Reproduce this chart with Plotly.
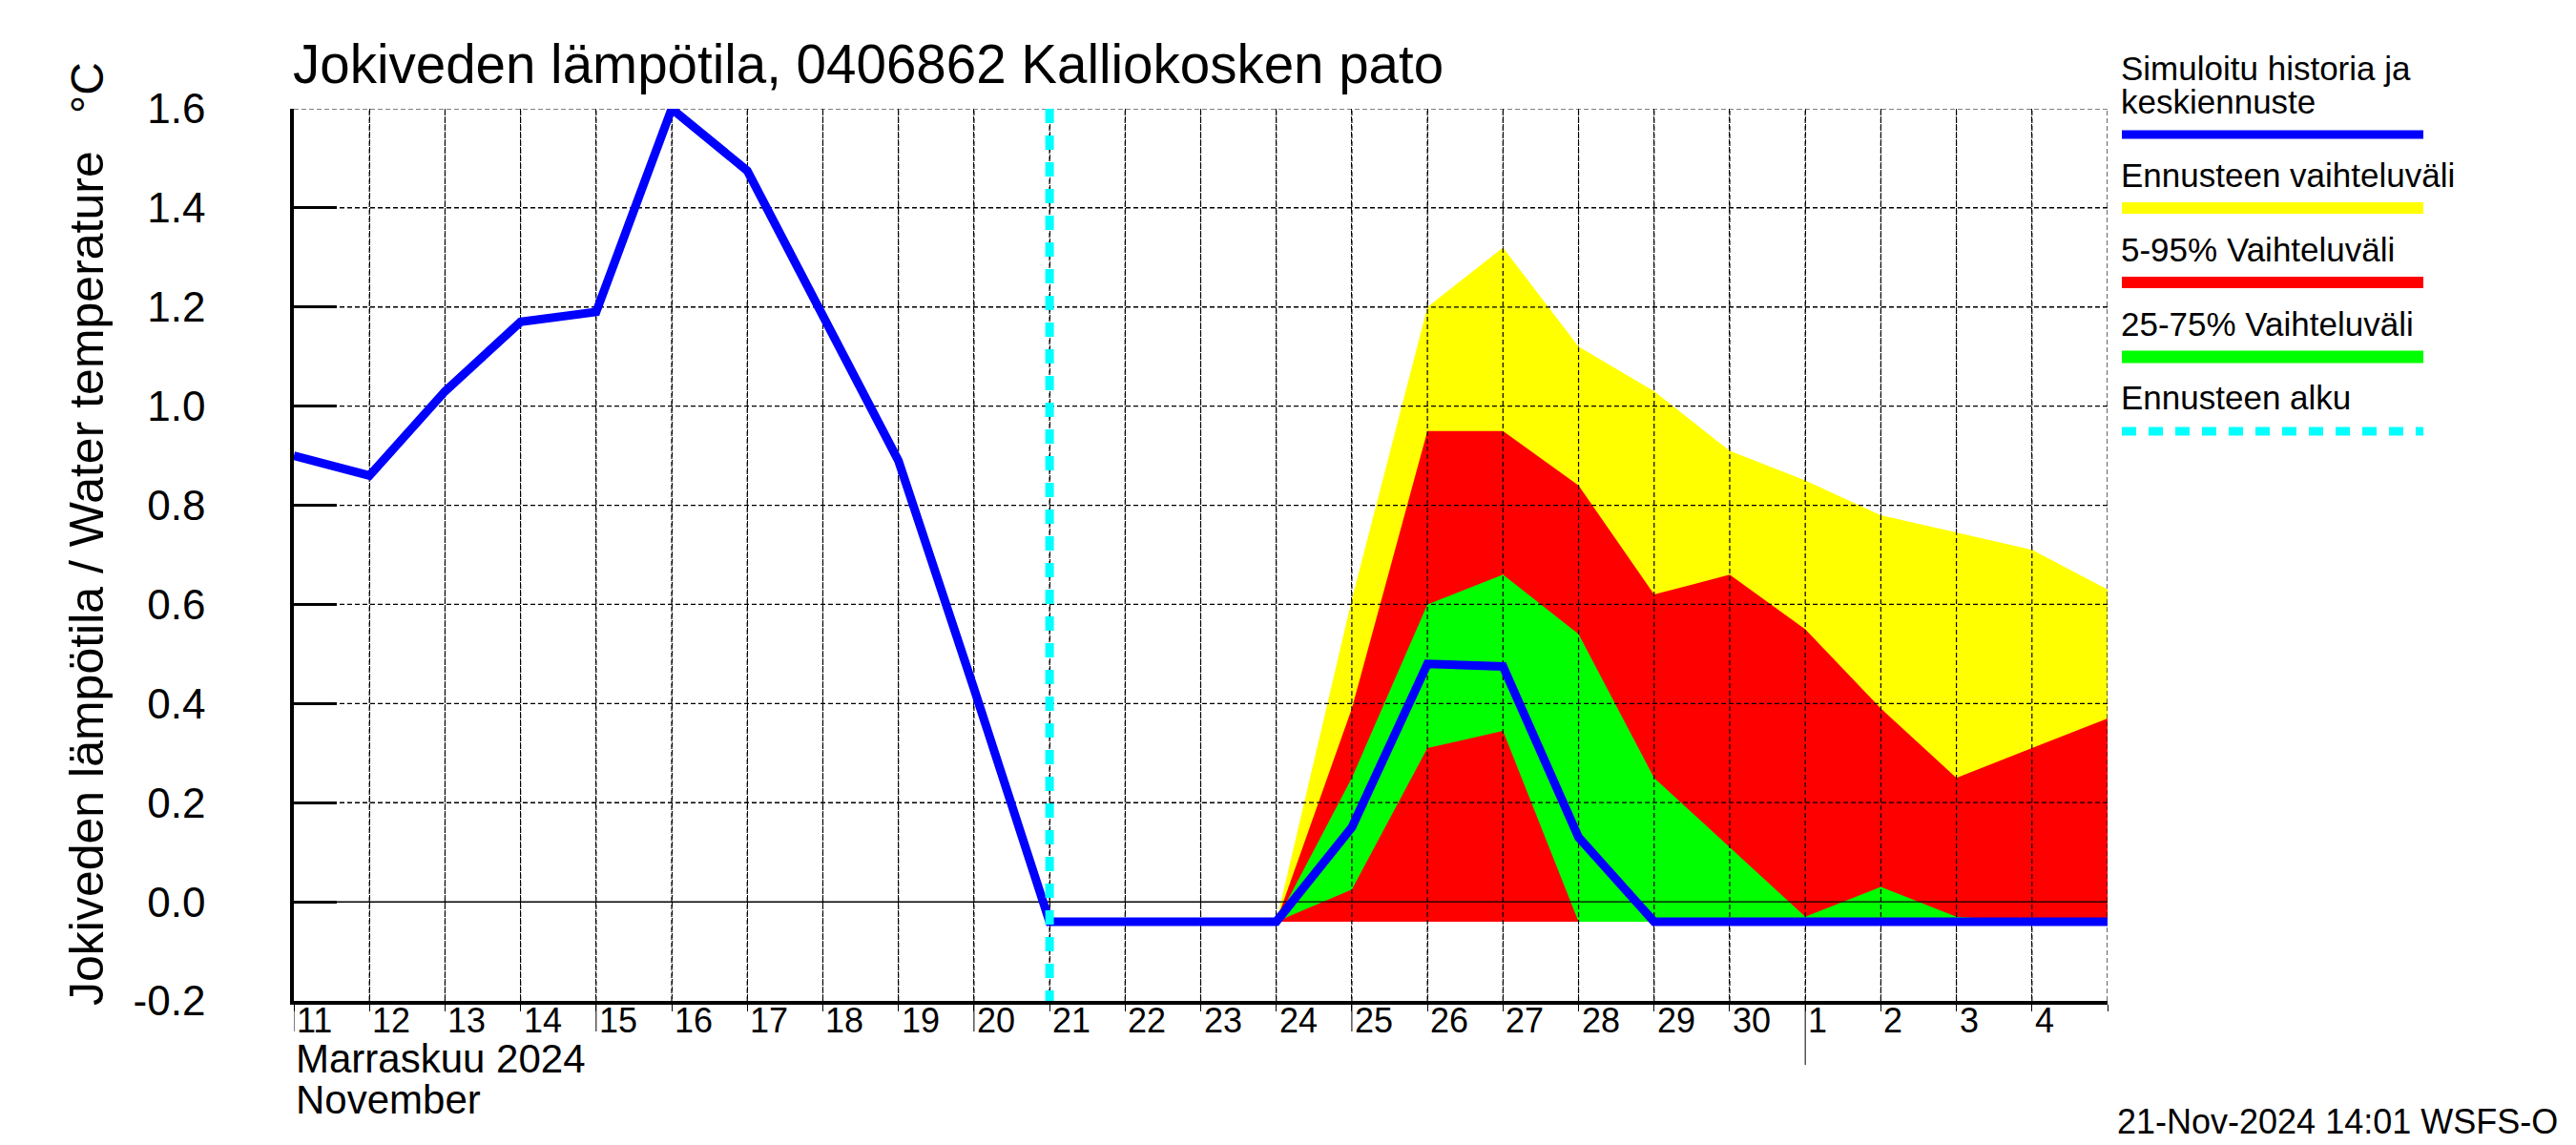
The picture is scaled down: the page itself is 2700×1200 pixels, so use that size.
import plotly.graph_objects as go

# ---------------- data ----------------
hist_dates = ["2024-11-11", "2024-11-12", "2024-11-13", "2024-11-14", "2024-11-15",
              "2024-11-16", "2024-11-17", "2024-11-18", "2024-11-19", "2024-11-20",
              "2024-11-21", "2024-11-22", "2024-11-23", "2024-11-24"]
hist_values = [0.90, 0.86, 1.03, 1.17, 1.19, 1.60, 1.475, 1.18, 0.89, 0.43,
               -0.04, -0.04, -0.04, -0.04]

fc_dates = ["2024-11-24", "2024-11-25", "2024-11-26", "2024-11-27", "2024-11-28",
            "2024-11-29", "2024-11-30", "2024-12-01", "2024-12-02", "2024-12-03",
            "2024-12-04", "2024-12-05"]
fc_median = [-0.04, 0.15, 0.48, 0.475, 0.13, -0.04, -0.04, -0.04, -0.04, -0.04, -0.04, -0.04]
fc_max = [-0.04, 0.61, 1.20, 1.32, 1.12, 1.03, 0.91, 0.85, 0.78, 0.745, 0.71, 0.63]
fc_min = [-0.04] * 12
fc_p95 = [-0.04, 0.39, 0.95, 0.95, 0.84, 0.62, 0.66, 0.55, 0.39, 0.25, 0.31, 0.37]
fc_p05 = [-0.04] * 12
fc_p75 = [-0.04, 0.25, 0.60, 0.66, 0.54, 0.25, 0.11, -0.03, 0.03, -0.03, -0.04, -0.04]
fc_p25 = [-0.04, 0.025, 0.31, 0.345, -0.04, -0.04, -0.04, -0.04, -0.04, -0.04, -0.04, -0.04]

forecast_start = "2024-11-21"

x_range = ["2024-11-11", "2024-12-05"]
y_range = [-0.2, 1.6]
y_ticks = [-0.2, 0.0, 0.2, 0.4, 0.6, 0.8, 1.0, 1.2, 1.4, 1.6]

day_tick_dates = ["2024-11-%02d" % d for d in range(11, 31)] + ["2024-12-%02d" % d for d in range(1, 5)]
day_tick_labels = [str(d) for d in range(11, 31)] + [str(d) for d in range(1, 5)]
grid_dates = day_tick_dates[1:] + ["2024-12-05"]
long_tick_dates = ["2024-11-11", "2024-11-15", "2024-11-20", "2024-11-25"]
month_start_dates = ["2024-12-01"]

title_text = "Jokiveden lämpötila, 0406862 Kalliokosken pato"
ylabel_text = "Jokiveden lämpötila / Water temperature"
yunit_text = "°C"
month_fi = "Marraskuu 2024"
month_en = "November"
stamp_text = "21-Nov-2024 14:01 WSFS-O"
legend_labels = ["Simuloitu historia ja", "keskiennuste", "Ennusteen vaihteluväli",
                 "5-95% Vaihteluväli", "25-75% Vaihteluväli", "Ennusteen alku"]

# ---------------- layout geometry (pixels) ----------------
W, H = 2700, 1200
L, R, T, B = 300, 2201, 106, 1041
FONT = "Liberation Sans, Arial, Helvetica, sans-serif"


def px(xp):
    return (xp - L) / (R - L)


def py(yp):
    return (B - yp) / (B - T)


YELLOW, RED, GREEN, BLUE, CYAN = "#FFFF00", "#FF0000", "#00FF00", "#0000FF", "#00FFFF"

fig = go.Figure()


def band(upper, lower, color):
    fig.add_trace(go.Scatter(
        x=fc_dates + fc_dates[::-1], y=upper + lower[::-1],
        fill="toself", fillcolor=color, mode="lines",
        line=dict(width=0, color=color), hoverinfo="skip", showlegend=False))


band(fc_max, fc_min, YELLOW)
band(fc_p95, fc_p05, RED)
band(fc_p75, fc_p25, GREEN)

# grid lines drawn above the bands (as in the original)
gx, gy = [], []
for d in grid_dates:
    gx += [d, d, None]
    gy += [y_range[0], y_range[1], None]
for v in y_ticks:
    if v in (y_range[0], 0.0):
        continue
    gx += [x_range[0], x_range[1], None]
    gy += [v, v, None]
fig.add_trace(go.Scatter(x=gx, y=gy, mode="lines",
                         line=dict(color="black", width=1.2, dash="5px,3px"),
                         hoverinfo="skip", showlegend=False))
fig.add_trace(go.Scatter(x=x_range, y=[0.0, 0.0], mode="lines",
                         line=dict(color="black", width=1.2),
                         hoverinfo="skip", showlegend=False))

# simulated history + median forecast
line_x = hist_dates + fc_dates[1:]
line_y = hist_values + fc_median[1:]
fig.add_trace(go.Scatter(x=line_x, y=line_y, mode="lines",
                         line=dict(color=BLUE, width=9), showlegend=False))

# forecast start
fig.add_trace(go.Scatter(x=[forecast_start, forecast_start], y=[y_range[1], y_range[0]],
                         mode="lines", line=dict(color=CYAN, width=9, dash="15px,13px"),
                         showlegend=False))

annotations = []
# day labels, placed to the right of each tick
for d, lab in zip(day_tick_dates, day_tick_labels):
    annotations.append(dict(x=d, xref="x", y=0, yref="paper", text=lab,
                            xanchor="left", yanchor="top", xshift=1, yshift=2,
                            showarrow=False, font=dict(family=FONT, size=36, color="black")))

annotations += [
    dict(x=px(297), xref="paper", y=py(60), yref="paper", text=title_text, xanchor="left",
         yanchor="middle", showarrow=False, font=dict(family=FONT, size=56.5, color="black")),
    dict(x=px(83), xref="paper", y=py(598), yref="paper", text=ylabel_text, textangle=-90,
         xanchor="center", yanchor="middle", showarrow=False,
         font=dict(family=FONT, size=50, color="black")),
    dict(x=px(83), xref="paper", y=py(84), yref="paper", text=yunit_text, textangle=-90,
         xanchor="center", yanchor="middle", showarrow=False,
         font=dict(family=FONT, size=48, color="black")),
    dict(x=x_range[0], xref="x", y=py(1101), yref="paper", text=month_fi, xanchor="left",
         yanchor="middle", showarrow=False, font=dict(family=FONT, size=42, color="black")),
    dict(x=x_range[0], xref="x", y=py(1144), yref="paper", text=month_en, xanchor="left",
         yanchor="middle", showarrow=False, font=dict(family=FONT, size=42, color="black")),
    dict(x=px(2675), xref="paper", y=py(1167), yref="paper", text=stamp_text, xanchor="right",
         yanchor="middle", showarrow=False, font=dict(family=FONT, size=36, color="black")),
]

# legend (custom, right of the plot)
leg_text_y = [63, 98, 176, 253, 331, 408]
for lab, yy in zip(legend_labels, leg_text_y):
    annotations.append(dict(x=px(2213), xref="paper", y=py(yy), yref="paper", text=lab,
                            xanchor="left", yanchor="middle", showarrow=False,
                            font=dict(family=FONT, size=35, color="black")))

shapes = []
leg_lines = [(133, BLUE, 9, "solid"), (210, YELLOW, 12, "solid"), (288, RED, 12, "solid"),
             (366, GREEN, 13, "solid"), (444, CYAN, 9, "15px,13px")]
for yy, col, wd, ds in leg_lines:
    shapes.append(dict(type="line", xref="paper", yref="paper", x0=px(2216), x1=px(2532),
                       y0=py(yy), y1=py(yy), line=dict(color=col, width=wd, dash=ds)))

for d in long_tick_dates:
    shapes.append(dict(type="line", xref="x", yref="paper", x0=d, x1=d, y0=0, y1=-32 / (B - T),
                       line=dict(color="black", width=1)))
for d in month_start_dates:
    shapes.append(dict(type="line", xref="x", yref="paper", x0=d, x1=d, y0=0, y1=-67 / (B - T),
                       line=dict(color="black", width=1)))

fig.update_layout(
    width=W, height=H,
    margin=dict(l=L, r=W - R, t=T, b=H - B, pad=0),
    paper_bgcolor="white", plot_bgcolor="white",
    showlegend=False,
    annotations=annotations, shapes=shapes,
    xaxis=dict(type="date", range=x_range, tickvals=day_tick_dates + ["2024-12-05"],
               showticklabels=False, ticks="outside", ticklen=7, tickwidth=1, tickcolor="black",
               showgrid=True, gridcolor="black", gridwidth=1.2, griddash="5px,3px",
               showline=True, linecolor="black", linewidth=3.5, zeroline=False,
               fixedrange=True),
    yaxis=dict(range=y_range, tickvals=y_ticks, ticktext=["%.1f" % v for v in y_ticks],
               ticks="inside", ticklen=45, tickwidth=3, tickcolor="black",
               ticklabelstandoff=80,
               tickfont=dict(family=FONT, size=44, color="black"),
               showgrid=True, gridcolor="black", gridwidth=1.2, griddash="5px,3px",
               zeroline=True, zerolinecolor="black", zerolinewidth=1.2,
               showline=True, linecolor="black", linewidth=3.5, fixedrange=True),
)

fig.write_html("out.html")
